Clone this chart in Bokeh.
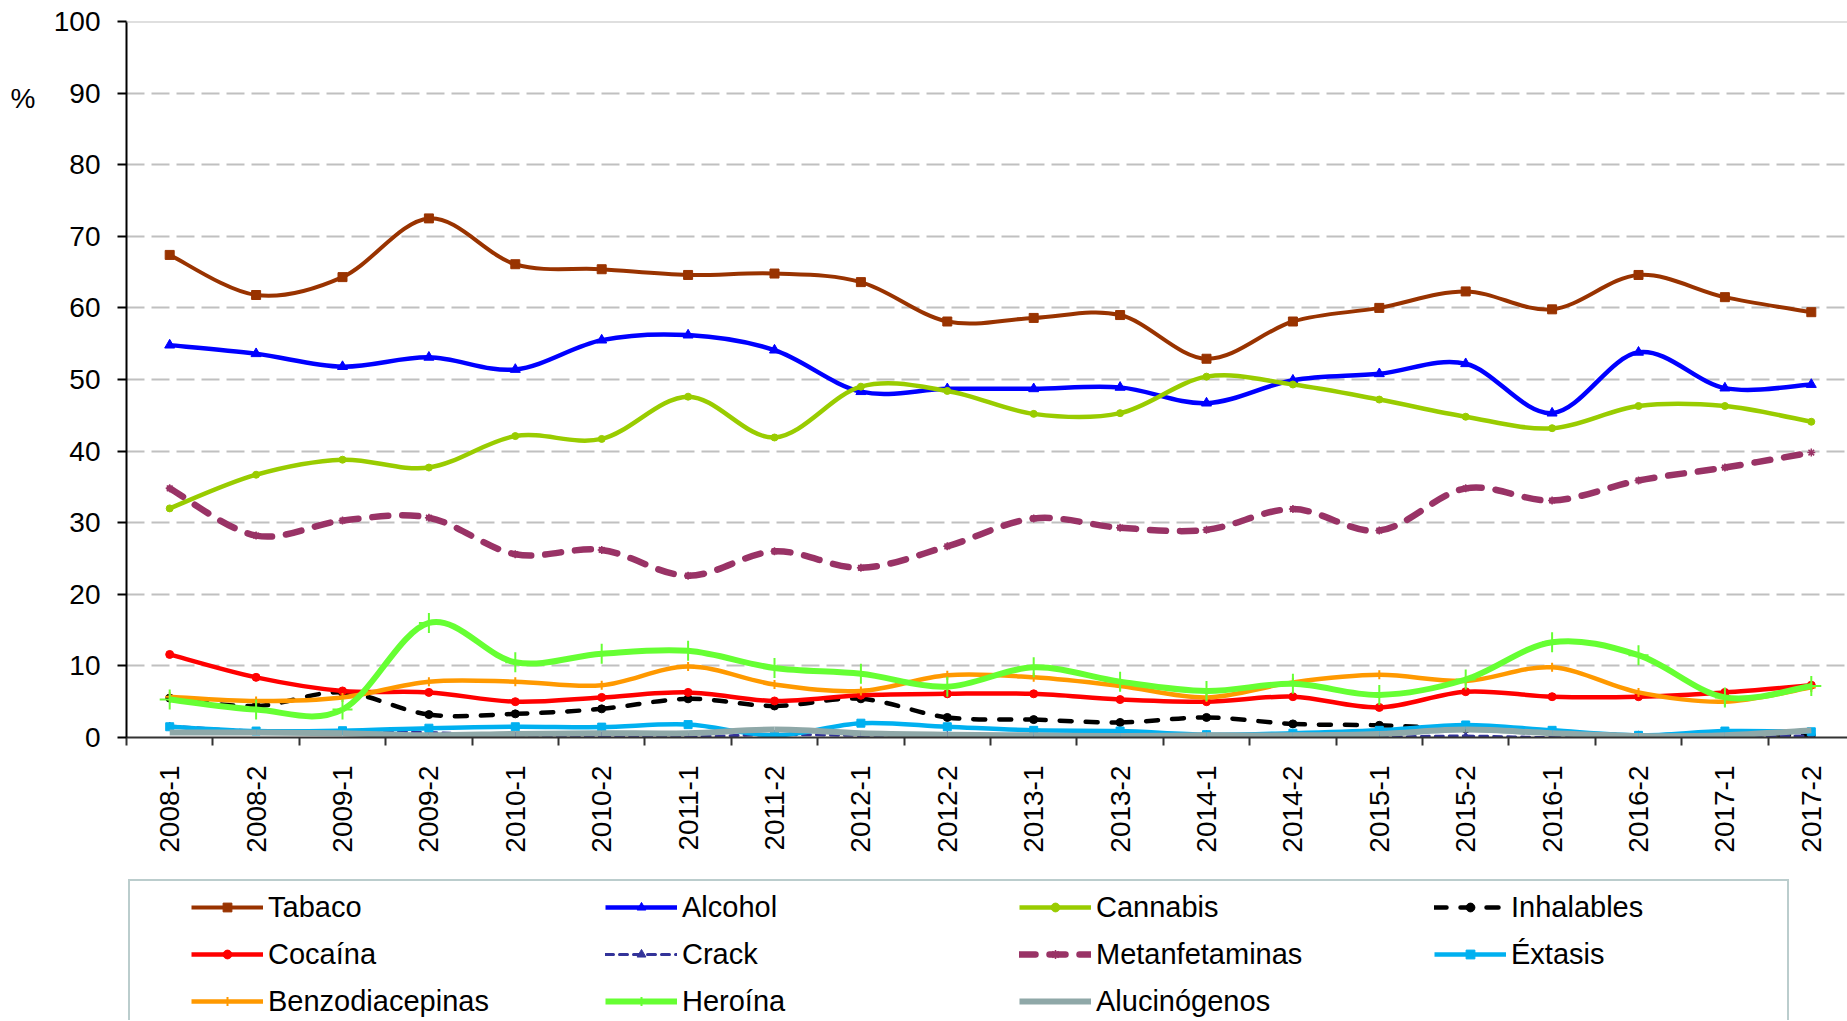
import math
import numpy as np
from bokeh.plotting import figure
from bokeh.layouts import column
from bokeh.models import Range1d, FixedTicker, Legend, LegendItem, Span, LinearAxis
from bokeh.embed import file_html
from bokeh.resources import INLINE

periods = ["2008-1", "2008-2", "2009-1", "2009-2", "2010-1", "2010-2", "2011-1", "2011-2",
           "2012-1", "2012-2", "2013-1", "2013-2", "2014-1", "2014-2", "2015-1", "2015-2",
           "2016-1", "2016-2", "2017-1", "2017-2"]
y_ticks = [0, 10, 20, 30, 40, 50, 60, 70, 80, 90, 100]
unit_label = "%"

tabaco = [67.4, 61.8, 64.3, 72.5, 66.1, 65.4, 64.6, 64.8, 63.6, 58.1, 58.6, 59.0, 52.9, 58.1, 60.0, 62.3, 59.8, 64.6, 61.5, 59.4]
alcohol = [54.8, 53.6, 51.8, 53.1, 51.4, 55.5, 56.2, 54.1, 48.3, 48.7, 48.7, 48.9, 46.7, 49.9, 50.8, 52.2, 45.3, 53.8, 48.8, 49.3]
cannabis = [32.0, 36.7, 38.8, 37.7, 42.1, 41.7, 47.6, 41.9, 49.0, 48.4, 45.2, 45.3, 50.4, 49.3, 47.2, 44.8, 43.2, 46.3, 46.3, 44.1]
inhalables = [5.5, 4.4, 6.3, 3.2, 3.3, 4.0, 5.4, 4.4, 5.4, 2.8, 2.5, 2.1, 2.8, 1.9, 1.7, 1.2, 0.7, 0.3, 0.5, 0.3]
cocaina = [11.6, 8.4, 6.5, 6.3, 5.0, 5.6, 6.3, 5.1, 5.9, 6.1, 6.1, 5.3, 5.0, 5.7, 4.2, 6.4, 5.7, 5.7, 6.3, 7.3]
crack = [1.6, 0.9, 0.8, 0.7, 0.2, 0.2, 0.1, 0.4, 0.3, 0.3, 0.3, 0.3, 0.4, 0.3, 0.1, 0.2, 0.0, 0.2, 0.2, 0.2]
metanfetaminas = [34.8, 28.2, 30.3, 30.7, 25.6, 26.2, 22.6, 26.0, 23.7, 26.7, 30.6, 29.3, 29.0, 31.9, 28.9, 34.8, 33.1, 35.9, 37.7, 39.8]
extasis = [1.5, 0.9, 0.95, 1.3, 1.5, 1.45, 1.8, 0.3, 2.0, 1.5, 1.0, 0.9, 0.4, 0.6, 1.0, 1.75, 1.0, 0.3, 0.9, 0.8]
benzodiacepinas = [5.7, 5.1, 5.6, 7.8, 7.8, 7.3, 9.9, 7.4, 6.5, 8.7, 8.4, 7.2, 5.6, 7.7, 8.75, 7.9, 9.8, 6.3, 5.0, 7.0]
heroina = [5.3, 3.9, 3.9, 16.0, 10.5, 11.7, 12.1, 9.7, 8.9, 7.1, 9.8, 7.8, 6.5, 7.5, 5.95, 8.1, 13.3, 11.5, 5.6, 7.2]
alucinogenos = [0.7, 0.7, 0.6, 0.3, 0.5, 0.6, 0.6, 1.1, 0.6, 0.4, 0.3, 0.2, 0.3, 0.3, 0.5, 1.1, 0.6, 0.2, 0.3, 1.0]

# name, values, color, line width, dash, marker, marker size, marker line width
series = [
    ("Tabaco", tabaco, "#993300", 4, "solid", "square", 9, 1),
    ("Alcohol", alcohol, "#0000ff", 4.5, "solid", "triangle", 10, 1),
    ("Cannabis", cannabis, "#99cc00", 4.5, "solid", "circle", 7, 1),
    ("Inhalables", inhalables, "#000000", 4.5, "12 14", "circle", 8, 1),
    ("Cocaína", cocaina, "#ff0000", 4.5, "solid", "circle", 8, 1),
    ("Crack", crack, "#333399", 3, "8 6", "triangle", 7, 1),
    ("Metanfetaminas", metanfetaminas, "#993366", 6.5, "16 14", "asterisk", 8, 1.5),
    ("Éxtasis", extasis, "#00b0f0", 4.5, "solid", "square", 8, 1),
    ("Benzodiacepinas", benzodiacepinas, "#ff9900", 4.5, "solid", "cross", 9, 2),
    ("Heroína", heroina, "#66ff33", 6, "solid", "cross", 20, 2),
    ("Alucinógenos", alucinogenos, "#8fa8a8", 6, "solid", None, 0, 0),
]

legend_columns = [
    ["Tabaco", "Cocaína", "Benzodiacepinas"],
    ["Alcohol", "Crack", "Heroína"],
    ["Cannabis", "Metanfetaminas", "Alucinógenos"],
    ["Inhalables", "Éxtasis"],
]

W = 1847
H1 = 878          # main chart height
H2 = 142          # legend strip height
FL, FT, FB = 126, 21, 737
STEP = 86.4
FONT = "Liberation Sans"

p = figure(width=W, height=H1, output_backend="svg", toolbar_location=None,
           x_range=Range1d(-0.5, -0.5 + (W - FL) / STEP), y_range=Range1d(0, 100),
           min_border_left=FL, min_border_right=0, min_border_top=FT,
           min_border_bottom=H1 - FB)
p.title.visible = False
p.outline_line_color = None

# x axis
n = len(periods)
p.xaxis.ticker = FixedTicker(ticks=list(range(n)), minor_ticks=[i - 0.5 for i in range(n + 1)])
p.xaxis.major_label_overrides = {i: periods[i] for i in range(n)}
p.xaxis.major_label_orientation = math.pi / 2
p.xaxis.major_tick_out = 0
p.xaxis.major_tick_in = 0
p.xaxis.minor_tick_out = 8
p.xaxis.minor_tick_in = 0
p.xaxis.minor_tick_line_width = 2
p.xaxis.minor_tick_line_color = "#333333"
p.xaxis.axis_line_width = 2
p.xaxis.axis_line_color = "#333333"
p.xaxis.major_label_standoff = 20
p.xaxis.major_label_text_font = FONT
p.xaxis.major_label_text_font_size = "28px"
p.xaxis.major_label_text_color = "black"

# y axis
p.yaxis.ticker = FixedTicker(ticks=y_ticks)
p.yaxis.major_tick_out = 9
p.yaxis.major_tick_in = 0
p.yaxis.major_tick_line_width = 2
p.yaxis.major_tick_line_color = "black"
p.yaxis.minor_tick_line_color = None
p.yaxis.axis_line_width = 2
p.yaxis.axis_line_color = "black"
p.yaxis.major_label_standoff = 17
p.yaxis.major_label_text_font = FONT
p.yaxis.major_label_text_font_size = "28px"
p.yaxis.major_label_text_color = "black"

# "%" unit shown as an outer left axis with a single labelled tick
unit_axis = LinearAxis(ticker=FixedTicker(ticks=[89.3]), major_label_overrides={89.3: unit_label},
                       axis_line_color=None, major_tick_line_color=None,
                       minor_tick_line_color=None, major_tick_out=0, major_tick_in=0,
                       major_label_standoff=15, major_label_text_font=FONT,
                       major_label_text_font_size="28px", major_label_text_color="black")
p.add_layout(unit_axis, "left")

p.xgrid.visible = False
p.ygrid.ticker = FixedTicker(ticks=y_ticks[1:-1])
p.ygrid.grid_line_color = "#c0c0c0"
p.ygrid.grid_line_width = 2
p.ygrid.grid_line_dash = "18 7"
p.add_layout(Span(location=100, dimension="width", line_color="#c0c0c0", line_width=2))


def bezier_parts(vals):
    y = np.asarray(vals, dtype=float)
    x = np.arange(len(y), dtype=float)
    xp = np.concatenate([[x[0]], x, [x[-1]]])
    yp = np.concatenate([[y[0]], y, [y[-1]]])
    m = len(y)
    return dict(
        x0=x[:-1], y0=y[:-1], x1=x[1:], y1=y[1:],
        cx0=x[:-1] + (xp[2:m + 1] - xp[0:m - 1]) / 6.0,
        cy0=y[:-1] + (yp[2:m + 1] - yp[0:m - 1]) / 6.0,
        cx1=x[1:] - (xp[3:m + 2] - xp[1:m]) / 6.0,
        cy1=y[1:] - (yp[3:m + 2] - yp[1:m]) / 6.0,
    )


xs = list(range(n))
for name, vals, color, lw, dash, marker, msize, mlw in series:
    cap = "round" if dash != "solid" else "butt"
    p.bezier(line_color=color, line_width=lw, line_dash=dash, line_cap=cap, **bezier_parts(vals))
    if marker is not None:
        p.scatter(xs, vals, marker=marker, size=msize, fill_color=color,
                  line_color=color, line_width=mlw)

# ---- legend strip (separate figure below the chart; frame aligned with chart) ----
p2 = figure(width=W, height=H2, output_backend="svg", toolbar_location=None,
            x_range=Range1d(0, W - FL), y_range=Range1d(0, H2),
            x_axis_location=None, y_axis_location=None,
            min_border_left=FL, min_border_right=0, min_border_top=0, min_border_bottom=0)
p2.title.visible = False
p2.outline_line_color = None
p2.grid.visible = False

OFF = [-10000, -9999]
items = {}
for name, vals, color, lw, dash, marker, msize, mlw in series:
    cap = "round" if dash != "solid" else "butt"
    rs = [p2.line(OFF, [-10000, -10000], line_color=color, line_width=lw, line_dash=dash,
                  line_cap=cap)]
    if marker is not None:
        rs.append(p2.scatter([-10000], [-10000], marker=marker, size=msize, fill_color=color,
                             line_color=color, line_width=mlw))
    items[name] = LegendItem(label=name, renderers=rs)

dummy = p2.line(OFF, [-10000, -10000], line_alpha=0)
box_h = 200
frame_leg = Legend(items=[LegendItem(label=" ", renderers=[dummy])],
                   location=(2, H2 - 5 - box_h), orientation="vertical",
                   glyph_width=1657, glyph_height=box_h, label_width=0, label_standoff=0,
                   padding=0, margin=0, border_line_color="#789c9c", border_line_width=2,
                   background_fill_color="white", label_text_font_size="1px")
p2.add_layout(frame_leg)

col_x = [65, 479, 893, 1308]
ITEM_H, GLYPH_H, SP = 40, 22, 7
for cx, names in zip(col_x, legend_columns):
    h = len(names) * ITEM_H + (len(names) - 1) * SP
    leg = Legend(items=[items[nm] for nm in names], location=(cx, H2 - 9 - h),
                 orientation="vertical", glyph_width=72, glyph_height=GLYPH_H,
                 label_height=ITEM_H, label_standoff=5, spacing=SP, padding=0, margin=0,
                 border_line_alpha=0, background_fill_alpha=0,
                 label_text_font=FONT, label_text_font_size="29px",
                 label_text_color="black")
    p2.add_layout(leg)

layout = column(p, p2, spacing=0)
open("out.html", "w").write(file_html(layout, INLINE))
